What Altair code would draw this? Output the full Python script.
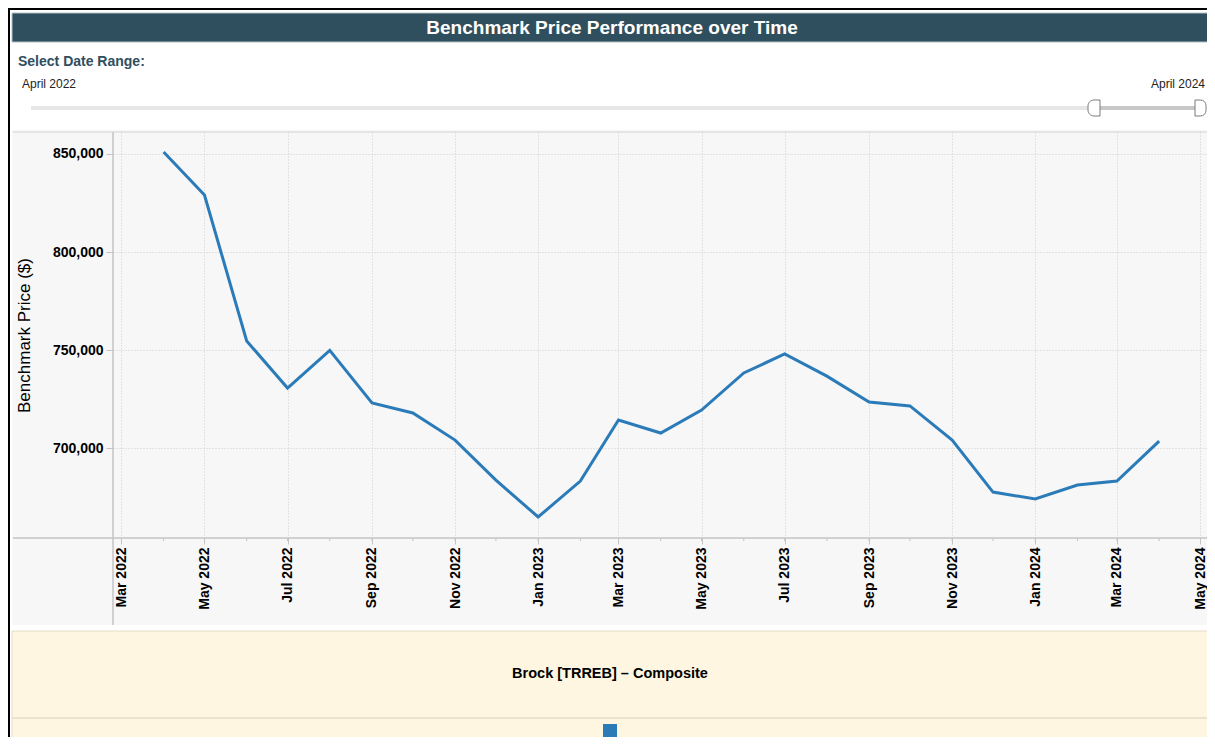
import altair as alt
import pandas as pd

# ---------------- data ----------------
MONTHS = ["2022-04", "2022-05", "2022-06", "2022-07", "2022-08", "2022-09", "2022-10",
          "2022-11", "2022-12", "2023-01", "2023-02", "2023-03", "2023-04", "2023-05",
          "2023-06", "2023-07", "2023-08", "2023-09", "2023-10", "2023-11", "2023-12",
          "2024-01", "2024-02", "2024-03", "2024-04"]
PRICES = [851000, 829100, 754700, 730700, 749900, 723100, 718000,
          704200, 683800, 665000, 683300, 714400, 707800, 719500,
          738400, 748100, 736800, 723600, 721600, 704200, 677700,
          674200, 681300, 683300, 703700]
TICK_MONTHS = ["2022-03", "2022-05", "2022-07", "2022-09", "2022-11", "2023-01", "2023-03",
               "2023-05", "2023-07", "2023-09", "2023-11", "2024-01", "2024-03", "2024-05"]
Y_TICKS = [700000, 750000, 800000, 850000]
TITLE = "Benchmark Price Performance over Time"
SERIES = "Brock [TRREB] \u2013 Composite"
SLIDER_LABEL = "Select Date Range:"
RANGE_START = "April 2022"
RANGE_END = "April 2024"
Y_TITLE = "Benchmark Price ($)"

FONT = "Liberation Sans"
BLUE = "#2b7bb9"
SLATE = "#2f4e5e"
AXIS_GRAY = "#c4c4c4"
GRID = "#cdcdcd"

df = pd.DataFrame({"date": [m + "-01T00:00:00" for m in MONTHS], "price": PRICES})


def dt(s, date=1, hours=0):
    y, m = s.split("-")
    return alt.DateTime(year=int(y), month=int(m), date=date, hours=hours)


tick_values = [dt(m) for m in TICK_MONTHS]
x_domain = [alt.DateTime(year=2022, month=2, date=22, hours=20),
            alt.DateTime(year=2024, month=5, date=6, hours=3)]

ONE = alt.Data(values=[{}])


def box(x, x2, y, y2, **kw):
    return alt.Chart(ONE).mark_rect(**kw).encode(
        x=alt.value(x), x2=alt.value(x2), y=alt.value(y), y2=alt.value(y2))


def hline(x, x2, y, **kw):
    return alt.Chart(ONE).mark_rule(**kw).encode(
        x=alt.value(x), x2=alt.value(x2), y=alt.value(y))


def vline(x, y, y2, **kw):
    return alt.Chart(ONE).mark_rule(**kw).encode(
        x=alt.value(x), y=alt.value(y), y2=alt.value(y2))


def label(x, y, text, **kw):
    return alt.Chart(ONE).mark_text(text=text, font=FONT, **kw).encode(
        x=alt.value(x), y=alt.value(y))


# ---------------- main line ----------------
x_enc = alt.X(
    "date:T",
    title=None,
    scale=alt.Scale(domain=x_domain),
    axis=alt.Axis(
        values=tick_values, format="%b %Y", labelAngle=-90,
        labelFont=FONT, labelFontSize=14, labelFontWeight="bold", labelColor="black",
        labelPadding=3, labelOverlap=False, labelFlush=False,
        tickSize=6, tickColor=AXIS_GRAY, domain=False,
        grid=True, gridColor=GRID, gridDash=[1, 2],
    ),
)
y_enc = alt.Y(
    "price:Q",
    scale=alt.Scale(domain=[654300, 861200], nice=False, zero=False),
    axis=alt.Axis(
        values=Y_TICKS, format=",.0f", title=Y_TITLE,
        labelFont=FONT, labelFontSize=14, labelFontWeight="bold", labelColor="black",
        labelPadding=3, tickSize=7, tickColor=AXIS_GRAY, domain=False,
        grid=True, gridColor=GRID, gridDash=[1, 2],
        titleFont=FONT, titleFontSize=17, titleFontWeight="normal", titleColor="black",
        titlePadding=19,
    ),
)

line = alt.Chart(df).mark_line(color=BLUE, strokeWidth=3).encode(x=x_enc, y=y_enc)
minor_ticks = alt.Chart(df).mark_rule(color=AXIS_GRAY).encode(
    x="date:T", y=alt.value(406), y2=alt.value(409))

layers = [
    # white regions outside the grey panel
    box(-105, 1094, -124, -2, fill="white"),
    box(-105, -101, -2, 605, fill="white"),
    box(-105, 1094, 493, 499, fill="white"),
    # frame
    box(-105, 1094, -124, -122, fill="black"),
    box(-105, -103, -124, 605, fill="black"),
    # title bar
    box(-101, 1100, -119, -90, fill=SLATE, stroke="#b5c1c6", strokeWidth=1),
    label(499, -104, TITLE, fontSize=19, fontWeight="bold", color="white",
          align="center", baseline="middle"),
    # slider
    label(-95, -70, SLIDER_LABEL, fontSize=14, fontWeight="bold", color=SLATE,
          align="left", baseline="middle"),
    label(-91, -48, RANGE_START, fontSize=12, color="#222222", align="left", baseline="middle"),
    label(1092, -48, RANGE_END, fontSize=12, color="#222222", align="right", baseline="middle"),
    box(-82, 1087, -26, -22, fill="#e6e6e6"),
    box(981, 1087, -26, -22, fill="#c8c8c8"),
    box(975, 987, -32, -16, fill="white", stroke="#7a7a7a", strokeWidth=1,
        cornerRadiusTopLeft=6, cornerRadiusBottomLeft=6),
    box(1082, 1093, -32, -16, fill="white", stroke="#7a7a7a", strokeWidth=1,
        cornerRadiusTopRight=6, cornerRadiusBottomRight=6),
    # panel borders / axis lines
    hline(-100, 1094, 0, color="#d4d4d4", strokeWidth=1),
    hline(-100, 1094, 406, color=AXIS_GRAY, strokeWidth=1.5),
    vline(0, 0, 493, color=AXIS_GRAY, strokeWidth=1.5),
    minor_ticks,
    line,
    # legend box
    box(-101, 1097, 499, 613, fill="#fef6e0", stroke="#e4dcc8", strokeWidth=1),
    hline(-101, 1097, 586, color="#e4dcc8", strokeWidth=1.5),
    label(497, 542, SERIES, fontSize=14.5, fontWeight="bold", color="black",
          align="center", baseline="middle"),
    box(490, 504, 592, 606, fill=BLUE),
]

chart = alt.layer(*layers).properties(
    width=1094,
    height=406,
    padding={"left": 105, "top": 124, "right": 0, "bottom": 199},
    autosize=alt.AutoSizeParams(type="none"),
    background="#f7f7f7",
).configure_view(stroke="transparent")

chart.save("out.html", embed_options={"renderer": "svg", "actions": False})
